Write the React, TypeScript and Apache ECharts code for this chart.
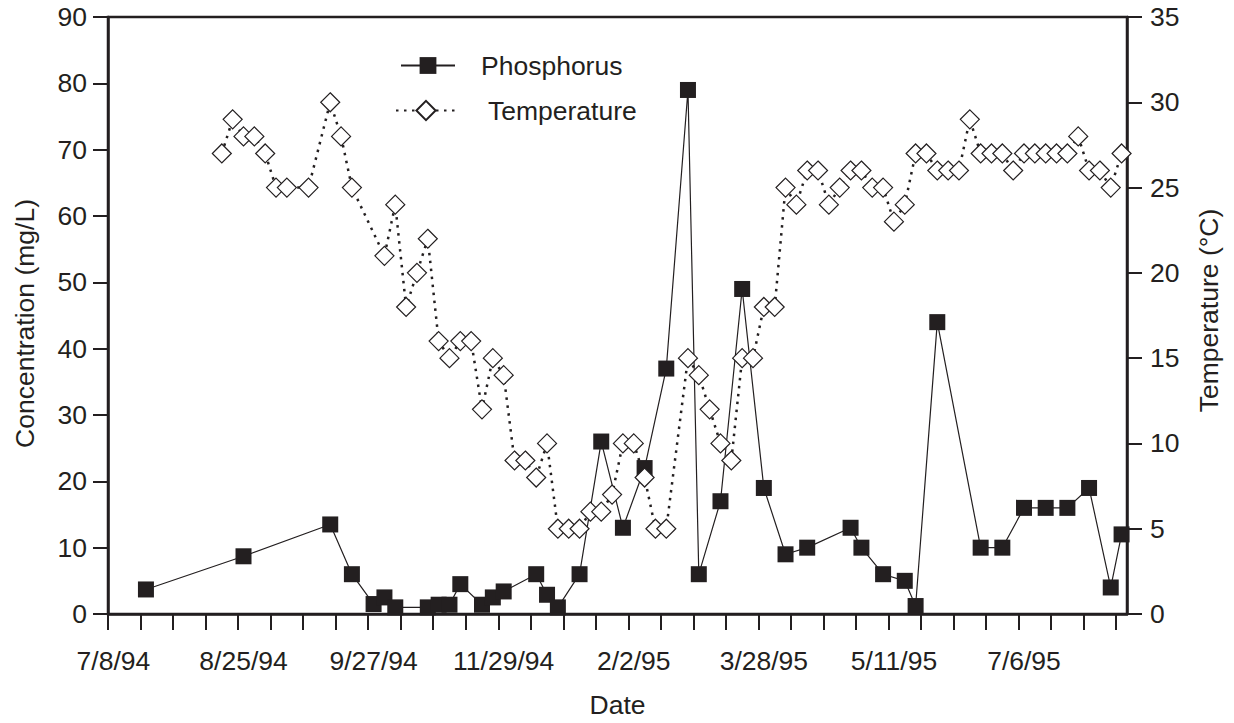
import React, { useEffect, useRef } from "react";
import * as echarts from "echarts";

// Sample slots on the date axis (3 slots per tick, 12 slots per labelled tick)
const xLabels = ["7/8/94", "8/25/94", "9/27/94", "11/29/94", "2/2/95", "3/28/95", "5/11/95", "7/6/95"];
const slotCount = 94;

const phosSlots = [3, 12, 20, 22, 24, 25, 26, 29, 30, 31, 32, 34, 35, 36, 39, 40, 41, 43, 45, 47, 49, 51, 53, 54, 56, 58, 60, 62, 64, 68, 69, 71, 73, 74, 76, 80, 82, 84, 86, 88, 90, 92, 93];
const phosValues = [3.7, 8.7, 13.5, 6, 1.5, 2.5, 1, 1, 1.4, 1.4, 4.5, 1.4, 2.5, 3.4, 6, 2.9, 1, 6, 26, 13, 22, 37, 79, 6, 17, 49, 19, 9, 10, 13, 10, 6, 5, 1.2, 44, 10, 10, 16, 16, 16, 19, 4, 12];

const tempSlots = [10, 11, 12, 13, 14, 15, 16, 18, 20, 21, 22, 25, 26, 27, 28, 29, 30, 31, 32, 33, 34, 35, 36, 37, 38, 39, 40, 41, 42, 43, 44, 45, 46, 47, 48, 49, 50, 51, 53, 54, 55, 56, 57, 58, 59, 60, 61, 62, 63, 64, 65, 66, 67, 68, 69, 70, 71, 72, 73, 74, 75, 76, 77, 78, 79, 80, 81, 82, 83, 84, 85, 86, 87, 88, 89, 90, 91, 92, 93];
const tempValues = [27, 29, 28, 28, 27, 25, 25, 25, 30, 28, 25, 21, 24, 18, 20, 22, 16, 15, 16, 16, 12, 15, 14, 9, 9, 8, 10, 5, 5, 5, 6, 6, 7, 10, 10, 8, 5, 5, 15, 14, 12, 10, 9, 15, 15, 18, 18, 25, 24, 26, 26, 24, 25, 26, 26, 25, 25, 23, 24, 27, 27, 26, 26, 26, 29, 27, 27, 27, 26, 27, 27, 27, 27, 27, 28, 26, 26, 25, 27];

const INK = "#231f20";
const FONT = "'Liberation Sans', Arial, Helvetica, sans-serif";
const FS = 26.5;

export default function App() {
  const ref = useRef<HTMLDivElement>(null);

  useEffect(() => {
    if (!ref.current) return;
    const chart = echarts.init(ref.current, null, { renderer: "svg" });

    const tickValues: number[] = [];
    for (let s = 0; s < slotCount; s += 3) tickValues.push(s);
    const labelValues = xLabels.map((_, i) => i * 12 + 0.5);

    const phosData = phosSlots.map((s, i) => [s + 0.5, phosValues[i]]);
    const tempData = tempSlots.map((s, i) => [s + 0.5, tempValues[i]]);

    const axisCommon = {
      axisLine: { show: true, onZero: false, lineStyle: { color: INK, width: 2.5 } },
      axisTick: { show: true, inside: false, length: 15, lineStyle: { color: INK, width: 2 } },
      splitLine: { show: false },
    };

    chart.setOption({
      animation: false,
      backgroundColor: "#fff",
      textStyle: { fontFamily: FONT, color: INK },
      grid: {
        left: 108,
        top: 17,
        right: 107,
        bottom: 107,
        show: true,
        borderColor: INK,
        borderWidth: 2.5,
        backgroundColor: "transparent",
      },
      legend: [
        {
          data: ["Phosphorus"],
          left: 395,
          top: 47,
          itemWidth: 54,
          itemHeight: 21,
          textStyle: { fontSize: FS, color: INK, fontFamily: FONT, padding: [0, 0, 0, 21] },
        },
        {
          data: ["Temperature"],
          left: 390,
          top: 92,
          itemWidth: 60,
          itemHeight: 24,
          textStyle: { fontSize: FS, color: INK, fontFamily: FONT, padding: [0, 0, 0, 27] },
        },
      ],
      xAxis: {
        type: "value",
        min: 0,
        max: slotCount,
        name: "Date",
        nameLocation: "middle",
        nameGap: 77,
        nameTextStyle: { fontSize: FS, color: INK, fontFamily: FONT },
        ...axisCommon,
        axisTick: { ...axisCommon.axisTick, length: 16, customValues: tickValues },
        axisLabel: {
          customValues: labelValues,
          formatter: (v: number) => xLabels[Math.round((v - 0.5) / 12)] ?? "",
          fontSize: FS,
          color: INK,
          fontFamily: FONT,
          margin: 33,
        },
      },
      yAxis: [
        {
          type: "value",
          position: "left",
          min: 0,
          max: 90,
          interval: 10,
          name: "Concentration (mg/L)",
          nameLocation: "middle",
          nameRotate: 90,
          nameGap: 70,
          nameTextStyle: { fontSize: FS, color: INK, fontFamily: FONT, padding: [0, 16, 0, 0] },
          ...axisCommon,
          axisLabel: { fontSize: FS, color: INK, fontFamily: FONT, margin: 21 },
        },
        {
          type: "value",
          position: "right",
          min: 0,
          max: 35,
          interval: 5,
          name: "Temperature (°C)",
          nameLocation: "middle",
          nameRotate: 90,
          nameGap: 68,
          nameTextStyle: { fontSize: FS, color: INK, fontFamily: FONT, padding: [0, 0, 0, 10] },
          ...axisCommon,
          axisLabel: { fontSize: FS, color: INK, fontFamily: FONT, margin: 23 },
        },
      ],
      series: [
        {
          name: "Phosphorus",
          type: "line",
          yAxisIndex: 0,
          data: phosData,
          symbol: "rect",
          symbolSize: 16,
          itemStyle: { color: INK },
          lineStyle: { color: INK, width: 1.2 },
        },
        {
          name: "Temperature",
          type: "line",
          yAxisIndex: 1,
          data: tempData,
          symbol: "diamond",
          symbolSize: 19,
          itemStyle: { color: "#fff", borderColor: INK, borderWidth: 1.2 },
          lineStyle: { color: INK, width: 2.5, type: [2.5, 5.5] },
        },
      ],
    });

    return () => chart.dispose();
  }, []);

  return (
    <div
      ref={ref}
      style={{ position: "absolute", left: 0, top: 0, width: 1234, height: 723, background: "#fff" }}
    />
  );
}
